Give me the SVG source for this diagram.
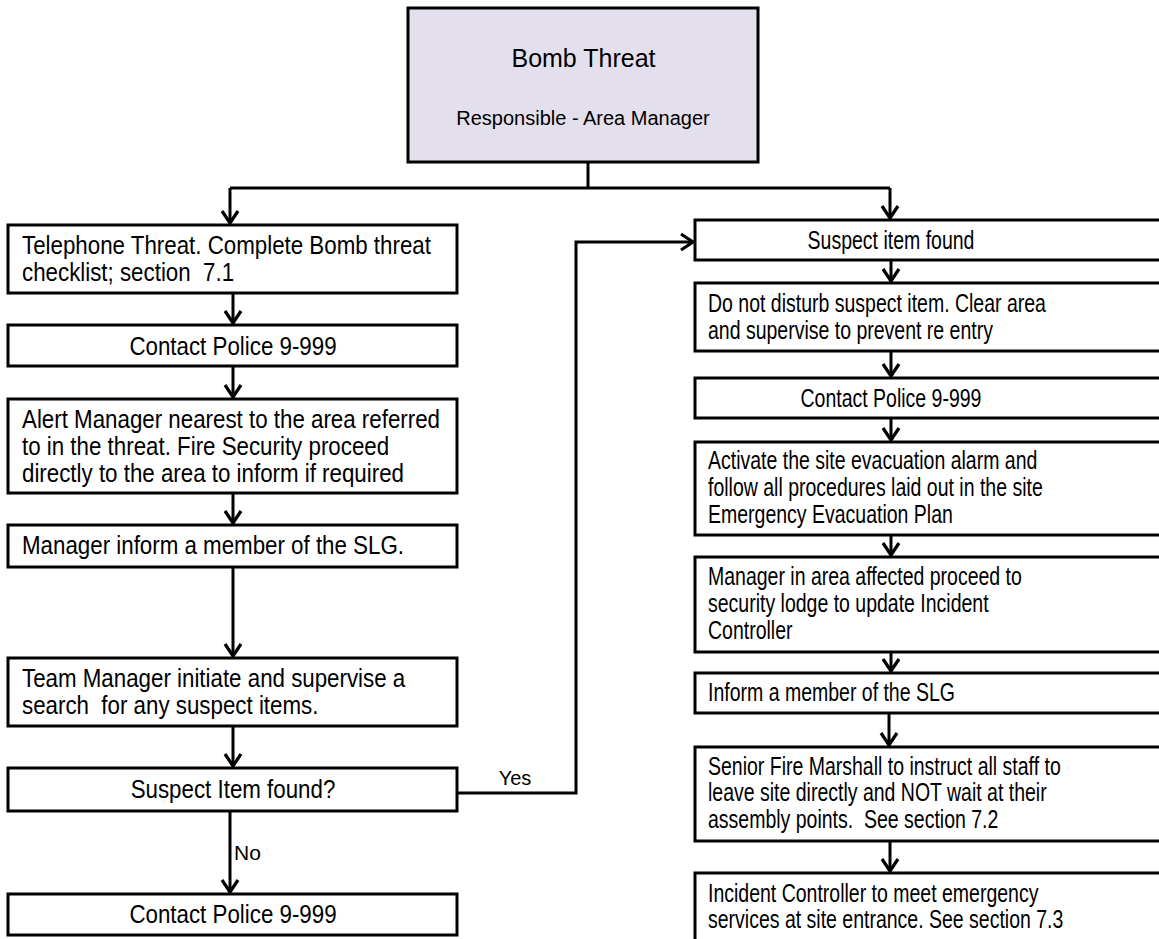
<svg xmlns="http://www.w3.org/2000/svg" width="1159" height="939" viewBox="0 0 1159 939">
  <style>
    .box { fill: #ffffff; stroke: #000000; stroke-width: 3; }
    .head { fill: #e4dfec; stroke: #000000; stroke-width: 3; }
    .t { font-family: "Liberation Sans", Arial, sans-serif; font-size: 25px; fill: #000000; white-space: pre; }
    .c { text-anchor: middle; }
    .lbl { font-family: "Liberation Sans", Arial, sans-serif; font-size: 20px; fill: #000000; }
    .wire { fill: none; stroke: #000000; stroke-width: 3; }
    .arrow { fill: none; stroke: #000000; stroke-width: 3; marker-end: url(#ah); }
  </style>
  <defs>
    <marker id="ah" viewBox="-15 -11 18 22" markerWidth="18" markerHeight="22" refX="0" refY="0" orient="auto" markerUnits="userSpaceOnUse">
      <path d="M-12,-8 L0,0 L-12,8" fill="none" stroke="#000000" stroke-width="3.2" stroke-linejoin="miter"/>
    </marker>
  </defs>

  <rect width="1159" height="939" fill="#ffffff"/>

  <!-- connectors -->
  <g id="connectors">
    <path class="wire" d="M588,162 V188"/>
    <path class="wire" d="M230,188 H890"/>
    <path class="arrow" d="M230,188 V223"/>
    <path class="arrow" d="M890,188 V218"/>
    <!-- left column -->
    <path class="arrow" d="M233,293 V323"/>
    <path class="arrow" d="M233,366 V397"/>
    <path class="arrow" d="M233,493 V523"/>
    <path class="arrow" d="M233,567 V656"/>
    <path class="arrow" d="M233,726 V766"/>
    <path class="arrow" d="M230,811 V892"/>
    <path class="arrow" d="M457,793 H576 V242 H693"/>
    <!-- right column -->
    <path class="arrow" d="M891,260 V281"/>
    <path class="arrow" d="M891,351 V376"/>
    <path class="arrow" d="M891,418 V440"/>
    <path class="arrow" d="M891,535 V555"/>
    <path class="arrow" d="M891,652 V671"/>
    <path class="arrow" d="M889,713 V745"/>
    <path class="arrow" d="M890,841 V871"/>
    <text class="lbl" x="515" y="785" text-anchor="middle">Yes</text>
    <text class="lbl" x="234" y="860" style="font-size:21px">No</text>
  </g>

  <!-- heading -->
  <g id="bomb-threat">
    <rect class="head" x="408" y="8" width="350" height="154"/>
    <text class="t c" x="583.5" y="67" style="font-size:25px">Bomb Threat</text>
    <text class="t c" x="583" y="125" style="font-size:20px">Responsible - Area Manager</text>
  </g>

  <!-- left column -->
  <g id="telephone-threat">
    <rect class="box" x="8" y="225" width="449" height="68"/>
    <text class="t" transform="translate(22 254) scale(0.893 1)"><tspan x="0" y="0">Telephone Threat. Complete Bomb threat</tspan><tspan x="0" y="27">checklist; section  7.1</tspan></text>
  </g>
  <g id="contact-police-1">
    <rect class="box" x="8" y="325" width="449" height="41"/>
    <text class="t c" transform="translate(233 355) scale(0.893 1)" x="0" y="0">Contact Police 9-999</text>
  </g>
  <g id="alert-manager">
    <rect class="box" x="8" y="399" width="449" height="94"/>
    <text class="t" transform="translate(22 428) scale(0.893 1)"><tspan x="0" y="0">Alert Manager nearest to the area referred</tspan><tspan x="0" y="27">to in the threat. Fire Security proceed</tspan><tspan x="0" y="54">directly to the area to inform if required</tspan></text>
  </g>
  <g id="manager-inform">
    <rect class="box" x="8" y="525" width="449" height="42"/>
    <text class="t" transform="translate(22 554) scale(0.893 1)" x="0" y="0">Manager inform a member of the SLG.</text>
  </g>
  <g id="team-manager">
    <rect class="box" x="8" y="658" width="449" height="68"/>
    <text class="t" transform="translate(22 687) scale(0.893 1)"><tspan x="0" y="0">Team Manager initiate and supervise a</tspan><tspan x="0" y="27">search  for any suspect items.</tspan></text>
  </g>
  <g id="suspect-item-question">
    <rect class="box" x="8" y="768" width="449" height="43"/>
    <text class="t c" transform="translate(233 798) scale(0.893 1)" x="0" y="0">Suspect Item found?</text>
  </g>
  <g id="contact-police-2">
    <rect class="box" x="8" y="894" width="449" height="41"/>
    <text class="t c" transform="translate(233 923) scale(0.893 1)" x="0" y="0">Contact Police 9-999</text>
  </g>

  <!-- right column -->
  <g id="suspect-item-found">
    <rect class="box" x="695" y="220" width="475" height="40"/>
    <text class="t c" transform="translate(891 248.5) scale(0.78 1)" x="0" y="0">Suspect item found</text>
  </g>
  <g id="do-not-disturb">
    <rect class="box" x="695" y="283" width="475" height="68"/>
    <text class="t" transform="translate(708 312) scale(0.78 1)"><tspan x="0" y="0">Do not disturb suspect item. Clear area</tspan><tspan x="0" y="27">and supervise to prevent re entry</tspan></text>
  </g>
  <g id="contact-police-3">
    <rect class="box" x="695" y="378" width="475" height="40"/>
    <text class="t c" transform="translate(891 407) scale(0.78 1)" x="0" y="0">Contact Police 9-999</text>
  </g>
  <g id="activate-alarm">
    <rect class="box" x="695" y="442" width="475" height="93"/>
    <text class="t" transform="translate(708 469) scale(0.78 1)"><tspan x="0" y="0">Activate the site evacuation alarm and</tspan><tspan x="0" y="27">follow all procedures laid out in the site</tspan><tspan x="0" y="54">Emergency Evacuation Plan</tspan></text>
  </g>
  <g id="manager-in-area">
    <rect class="box" x="695" y="557" width="475" height="95"/>
    <text class="t" transform="translate(708 585) scale(0.78 1)"><tspan x="0" y="0">Manager in area affected proceed to</tspan><tspan x="0" y="27">security lodge to update Incident</tspan><tspan x="0" y="54">Controller</tspan></text>
  </g>
  <g id="inform-slg">
    <rect class="box" x="695" y="673" width="475" height="40"/>
    <text class="t" transform="translate(708 701) scale(0.78 1)" x="0" y="0">Inform a member of the SLG</text>
  </g>
  <g id="senior-fire-marshall">
    <rect class="box" x="695" y="747" width="475" height="94"/>
    <text class="t" transform="translate(708 775) scale(0.78 1)"><tspan x="0" y="0">Senior Fire Marshall to instruct all staff to</tspan><tspan x="0" y="26.5">leave site directly and NOT wait at their</tspan><tspan x="0" y="53">assembly points.  See section 7.2</tspan></text>
  </g>
  <g id="incident-controller">
    <rect class="box" x="695" y="873" width="475" height="80"/>
    <text class="t" transform="translate(708 902) scale(0.78 1)"><tspan x="0" y="0">Incident Controller to meet emergency</tspan><tspan x="0" y="26">services at site entrance. See section 7.3</tspan></text>
  </g>
</svg>
